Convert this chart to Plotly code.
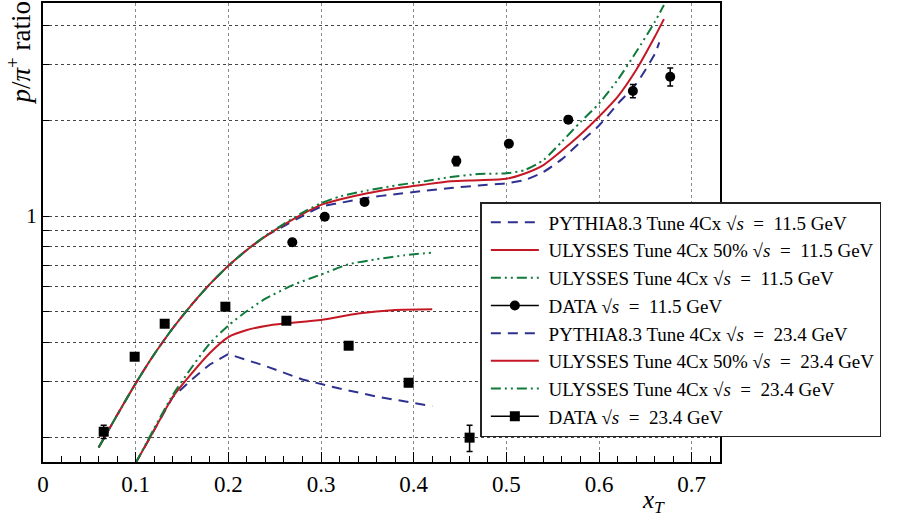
import plotly.graph_objects as go

# ---------------- data ----------------
# sqrt(s) = 11.5 GeV model curves
x_ul50_115 = [0.06, 0.08, 0.10, 0.12, 0.14, 0.16, 0.18, 0.20, 0.22, 0.24, 0.26, 0.28, 0.30, 0.32,
              0.35, 0.38, 0.41, 0.44, 0.47, 0.50, 0.52, 0.54, 0.56, 0.58, 0.60, 0.62, 0.64, 0.66, 0.67]
y_ul50_115 = [0.186, 0.2355, 0.2965, 0.3664, 0.4426, 0.5236, 0.6095, 0.6966, 0.7817, 0.863, 0.9397,
              1.014, 1.084, 1.127, 1.180, 1.221, 1.255, 1.287, 1.297, 1.311, 1.362, 1.448, 1.609,
              1.807, 2.06, 2.378, 2.888, 3.67, 4.18]

x_py_115 = [0.06, 0.08, 0.10, 0.12, 0.14, 0.16, 0.18, 0.20, 0.22, 0.24, 0.26, 0.28, 0.30, 0.32,
            0.35, 0.38, 0.41, 0.44, 0.47, 0.50, 0.52, 0.54, 0.56, 0.58, 0.60, 0.62, 0.64, 0.66, 0.665]
y_py_115 = [0.186, 0.2355, 0.2965, 0.3664, 0.4426, 0.5236, 0.6095, 0.6966, 0.7817, 0.863, 0.9300,
            1.000, 1.070, 1.099, 1.142, 1.172, 1.199, 1.226, 1.248, 1.268, 1.299, 1.377, 1.512,
            1.712, 1.930, 2.256, 2.609, 3.24, 3.53]

x_ul_115 = [0.06, 0.08, 0.10, 0.12, 0.14, 0.16, 0.18, 0.20, 0.22, 0.24, 0.26, 0.28, 0.30, 0.32,
            0.35, 0.38, 0.41, 0.44, 0.47, 0.50, 0.52, 0.54, 0.56, 0.58, 0.60, 0.62, 0.64, 0.66, 0.67]
y_ul_115 = [0.186, 0.2355, 0.2965, 0.3664, 0.4426, 0.5236, 0.6095, 0.6966, 0.7817, 0.866, 0.945,
            1.025, 1.097, 1.152, 1.204, 1.248, 1.285, 1.327, 1.357, 1.364, 1.397, 1.502, 1.718,
            1.980, 2.264, 2.686, 3.29, 4.09, 4.63]

# sqrt(s) = 23.4 GeV model curves
x_py_234 = [0.10, 0.12, 0.14, 0.16, 0.18, 0.20, 0.24, 0.28, 0.32, 0.36, 0.42]
y_py_234 = [0.1663, 0.2113, 0.2685, 0.3039, 0.3401, 0.3669, 0.3364, 0.3050, 0.2856, 0.2695, 0.2511]

x_ul50_234 = [0.10, 0.12, 0.14, 0.16, 0.18, 0.20, 0.22, 0.24, 0.26, 0.30, 0.34, 0.38, 0.42]
y_ul50_234 = [0.1663, 0.2113, 0.2685, 0.3176, 0.3698, 0.4152, 0.4370, 0.4500, 0.4580, 0.4700,
              0.4925, 0.5052, 0.5077]

x_ul_234 = [0.10, 0.12, 0.14, 0.16, 0.18, 0.20, 0.22, 0.24, 0.27, 0.30, 0.33, 0.36, 0.39, 0.42]
y_ul_234 = [0.1663, 0.2140, 0.2725, 0.3315, 0.3967, 0.4515, 0.5015, 0.5483, 0.6063, 0.6537,
            0.7047, 0.7307, 0.7516, 0.7666]

# measured data
x_data_115 = [0.269, 0.304, 0.347, 0.446, 0.5027, 0.5668, 0.6365, 0.6768]
y_data_115 = [0.826, 0.995, 1.107, 1.491, 1.690, 2.013, 2.480, 2.751]
e_data_115 = [0.02, 0.02, 0.025, 0.05, 0.04, 0.05, 0.12, 0.18]

x_data_234 = [0.0655, 0.0989, 0.1313, 0.1968, 0.2626, 0.3298, 0.3945, 0.4603]
y_data_234 = [0.2087, 0.3598, 0.4573, 0.5175, 0.4674, 0.3898, 0.2979, 0.1999]
e_data_234 = [0.010, 0.008, 0.008, 0.008, 0.008, 0.008, 0.008, 0.019]

# ticks
y_tickvals = [0.2, 0.3, 0.4, 0.5, 0.6, 0.7, 0.8, 0.9, 1, 2, 3, 4]
y_ticktext = ["", "", "", "", "", "", "", "", "1", "", "", ""]

# ---------------- style ----------------
BLUE = "#2f3190"
RED = "#c41824"
GREEN = "#0f7a3a"
FONT = "Liberation Serif, Times New Roman, serif"
DASH_BLUE = "10px,7px"
DASH_GREEN = "10px,4px,2px,4px,2px,4px"

SQ = "√<i>s</i>"
EQ = "\u2002=\u2002"

fig = go.Figure()


def add_curve(x, y, color, dash, name, g, shape="spline"):
    fig.add_trace(go.Scatter(
        x=x, y=y, mode="lines", name=name, legendgroup=g,
        line=dict(color=color, width=2, dash=dash, shape=shape,
                  **({"smoothing": 0.6} if shape == "spline" else {})),
    ))


def add_data(x, y, e, symbol, name, g):
    fig.add_trace(go.Scatter(
        x=x, y=y, mode="markers", showlegend=False, legendgroup=g,
        marker=dict(symbol=symbol, size=10, color="black"),
        error_y=dict(type="data", array=e, color="black", thickness=1.5, width=3),
    ))
    # legend entry (line + marker, ROOT style)
    fig.add_trace(go.Scatter(
        x=[None], y=[None], mode="lines+markers", name=name, legendgroup=g,
        line=dict(color="black", width=1.5),
        marker=dict(symbol=symbol, size=10, color="black"),
    ))


add_curve(x_py_115, y_py_115, BLUE, DASH_BLUE, f" PYTHIA8.3 Tune 4Cx {SQ}{EQ}11.5 GeV", "g1")
add_curve(x_ul50_115, y_ul50_115, RED, "solid", f" ULYSSES Tune 4Cx 50% {SQ}{EQ}11.5 GeV", "g2")
add_curve(x_ul_115, y_ul_115, GREEN, DASH_GREEN, f" ULYSSES Tune 4Cx {SQ}{EQ}11.5 GeV", "g3")
add_data(x_data_115, y_data_115, e_data_115, "circle", f" DATA {SQ}{EQ}11.5 GeV", "g4")
add_curve(x_py_234, y_py_234, BLUE, DASH_BLUE, f" PYTHIA8.3 Tune 4Cx {SQ}{EQ}23.4 GeV", "g5",
          shape="linear")
add_curve(x_ul50_234, y_ul50_234, RED, "solid", f" ULYSSES Tune 4Cx 50% {SQ}{EQ}23.4 GeV", "g6")
add_curve(x_ul_234, y_ul_234, GREEN, DASH_GREEN, f" ULYSSES Tune 4Cx {SQ}{EQ}23.4 GeV", "g7")
add_data(x_data_234, y_data_234, e_data_234, "square", f" DATA {SQ}{EQ}23.4 GeV", "g8")

fig.update_layout(
    width=897, height=517,
    margin=dict(l=43, r=177, t=3, b=55, autoexpand=False),
    paper_bgcolor="white", plot_bgcolor="white",
    font=dict(family=FONT, color="black"),
    showlegend=True,
    legend=dict(
        x=0.646, y=0.5664, xanchor="left", yanchor="top",
        bgcolor="white", bordercolor="#222", borderwidth=1.5,
        font=dict(family=FONT, size=19, color="black"),
        tracegroupgap=1, itemwidth=48, indentation=4, traceorder="normal",
    ),
    xaxis=dict(
        range=[0, 0.7305], tick0=0, dtick=0.1,
        ticks="inside", ticklen=10, tickwidth=1, tickcolor="black",
        tickfont=dict(family=FONT, size=23),
        showgrid=True, gridcolor="#8a8a8a", griddash="dot", gridwidth=1,
        zeroline=False, showline=True, linecolor="black", linewidth=2, mirror=True,
        minor=dict(dtick=0.02, ticks="inside", ticklen=6, tickcolor="black", showgrid=False),
    ),
    yaxis=dict(
        type="log", range=[-0.776, 0.672],
        tickmode="array", tickvals=y_tickvals, ticktext=y_ticktext,
        ticks="inside", ticklen=6, tickcolor="black",
        tickfont=dict(family=FONT, size=21),
        showgrid=True, gridcolor="#444", griddash="dot", gridwidth=1,
        zeroline=False, showline=True, linecolor="black", linewidth=2, mirror=True,
    ),
    annotations=[
        dict(text="<i>p</i>/<i>π</i><sup>+</sup> ratio", xref="paper", yref="paper",
             x=-0.036, y=1.008, xanchor="center", yanchor="top", textangle=-90,
             showarrow=False, font=dict(family=FONT, size=27)),
        dict(text="<i>x<sub>T</sub></i>", xref="paper", yref="paper",
             x=0.921, y=-0.087, xanchor="right", yanchor="middle",
             showarrow=False, font=dict(family=FONT, size=25)),
    ],
)

fig.write_html("out.html")
